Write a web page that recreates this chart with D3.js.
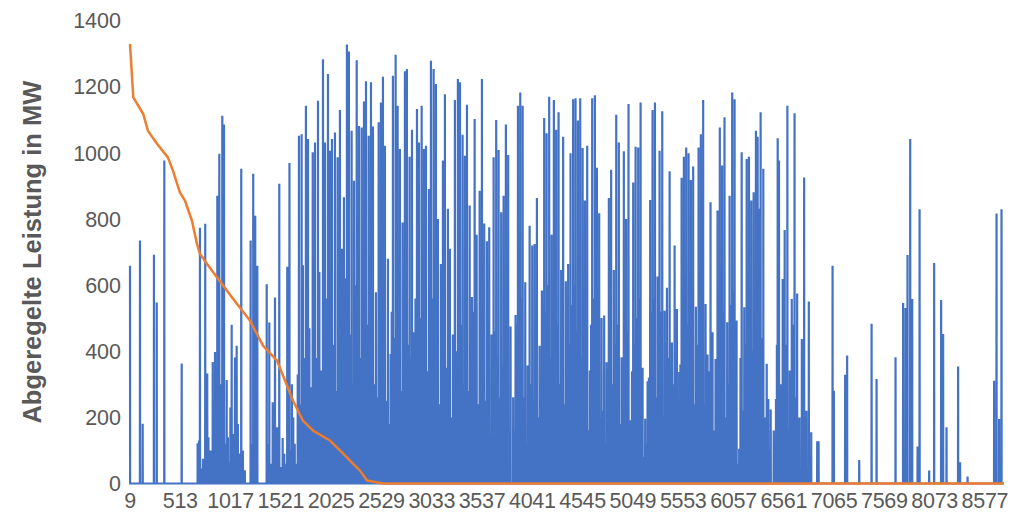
<!DOCTYPE html>
<html>
<head>
<meta charset="utf-8">
<script src="https://cdn.jsdelivr.net/npm/d3@7"></script>
<style>
  body { margin: 0; background: #fff; }
  svg { display: block; font-family: "Liberation Sans", Arial, sans-serif; }
</style>
</head>
<body>
<svg id="chart" width="1022" height="513"></svg>
<script>
// category axis: hours of the year, labelled every 504 h
const xTickLabels = [9, 513, 1017, 1521, 2025, 2529, 3033, 3537, 4041, 4545,
  5049, 5553, 6057, 6561, 7065, 7569, 8073, 8577];
const yTicks = [0, 200, 400, 600, 800, 1000, 1200, 1400];
const firstHour = 9, lastHour = 8768;

// curtailed power per hour (MW): [hour, MW]; all other hours are 0
const curtailed = [
  [9,659],[109,735],[136,181],[249,692],[277,548],[353,977],[527,363],[687,122],
  [710,774],[727,45],[740,75],[763,786],[783,333],[804,100],[821,100],[838,368],
  [861,398],[884,871],[904,998],[934,1113],[951,1086],[978,313],[1004,64],[1028,480],
  [1061,381],[1078,417],[1104,91],[1124,952],[1218,735],[1244,937],[1264,810],[1285,659],
  [1379,603],[1405,487],[1439,246],[1462,563],[1485,170],[1505,907],[1539,138],[1585,656],
  [1607,970],[1645,200],[1702,1052],
  [1729,1057],[1742,660],[1772,1143],[1793,1042],[1820,291],[1840,1002],[1863,1032],[1893,1158],
  [1920,342],[1943,1284],[1963,1032],[1993,1239],[2013,1007],[2033,1042],[2063,1062],[2090,987],
  [2113,1130],[2133,710],[2153,866],[2183,1328],[2203,1307],[2230,1067],[2254,916],[2281,1281],
  [2304,1082],[2331,1077],[2354,1156],[2374,1217],[2401,1052],[2424,1214],[2444,1080],
  [2474,579],[2501,1093],[2524,1153],[2544,1231],[2564,1022],[2594,680],[2621,392],[2644,1234],
  [2671,1297],[2691,1143],[2714,1012],[2741,790],[2764,1247],[2784,1254],[2811,989],[2835,1070],
  [2855,458],[2885,1133],[2905,1032],[2932,1143],[2955,1012],[2975,1022],[3005,891],[3025,1279],
  [3052,1254],[3075,1209],[3095,800],[3125,664],[3145,977],[3165,1178],[3195,831],[3215,710],
  [3245,451],[3265,1160],
  [3295,1224],[3316,1214],[3342,1055],[3366,992],[3386,1146],[3413,841],[3436,564],[3463,1103],
  [3483,753],[3513,886],[3536,1224],[3559,787],[3586,733],[3609,775],[3633,451],[3653,987],
  [3679,1100],[3703,1009],[3729,821],[3753,871],[3776,1086],[3799,994],[3823,475],[3849,261],
  [3873,510],[3897,1143],[3920,1183],[3944,1143],[3970,609],[3994,357],[4014,780],[4040,720],
  [4064,725],
  [4087,864],[4114,417],[4137,584],[4160,1106],[4184,1060],[4210,1170],[4234,753],[4257,1160],
  [4280,1070],[4304,1123],[4330,646],[4350,1049],[4377,612],[4400,664],[4424,999],[4450,1163],
  [4474,1166],[4498,1098],[4521,1166],[4545,1015],[4568,856],[4591,1022],[4618,342],[4641,1166],
  [4668,1175],[4688,955],[4711,818],[4735,501],[4761,508],[4785,367],[4808,864],[4831,949],
  [4858,646],
  [4882,1116],[4908,1032],[4935,382],[4958,1005],[4981,800],[5005,1148],[5028,191],[5052,911],
  [5076,1019],[5102,1017],[5126,1153],[5146,350],[5172,196],[5196,309],[5222,858],[5246,1130],
  [5270,1153],[5296,626],[5316,1007],[5343,1126],[5367,523],[5390,592],[5417,945],[5440,427],
  [5467,720],[5490,528],[5513,337],[5537,925],[5560,989],[5583,1017],[5607,999],[5630,918],
  [5653,959],
  [5680,535],[5707,1017],[5730,1057],[5753,1160],[5777,543],[5797,390],[5827,851],[5847,458],
  [5877,377],[5897,826],[5920,1077],[5943,962],[5967,1108],[5994,488],[6018,871],[6044,1183],
  [6068,1163],[6088,493],[6114,105],[6139,1002],[6165,533],[6189,982],[6212,989],[6235,856],
  [6259,881],[6282,1067],[6299,1049],[6312,831],[6329,1123],[6356,952],[6390,362],[6406,256],
  [6430,224],[6483,256],[6500,1045],[6513,977],[6550,619],[6570,767],[6597,1143],[6621,342],
  [6641,558],[6669,1120],[6695,575],[6742,437],[6765,926],[6812,551],[6836,155],[6896,128],
  [6910,128],[7050,659],[7063,281],[7176,329],[7196,387],[7317,71],[7441,483],[7491,316],
  [7681,382],[7757,546],[7781,531],[7801,691],[7828,1042],[7848,558],[7902,112],[7922,830],
  [8018,39],[8068,667],[8138,555],[8158,452],[8192,170],[8308,354],[8328,64],[8403,21],
  [8669,311],[8693,817],[8719,195],[8743,830]
];

// smaller curtailment hours visible as low blue fill between the peaks: [hour, MW]
const curtailedLow = [
  [700,130],[750,60],[795,140],[812,90],[850,120],[872,200],[895,150],[915,300],
  [925,60],[943,250],[965,120],[990,140],[1015,230],[1040,60],[1050,150],[1090,180],
  [1115,60],[1140,100],[1160,40],[1232,120],[1255,60],[1275,90],[1395,120],[1420,60],
  [1450,90],[1475,40],[1495,120],[1520,50],[1555,90],[1572,60],[1595,150],[1620,100],
  [1632,300],[1660,120],[1680,60],[1690,330],[1712,240],[1755,380],[1807,470],[1830,180],
  [1852,520],[1878,380],[1907,640],[1932,250],[1976,560],[2003,300],[2048,420],[2076,280],
  [2100,520],[2123,300],[2143,340],[2168,620],[2218,450],[2242,300],[2268,600],[2318,380],
  [2342,560],[2388,480],[2413,340],[2458,300],[2488,260],[2512,450],[2554,330],[2580,250],
  [2608,180],[2632,520],[2658,440],[2702,350],[2728,280],[2752,600],[2797,420],[2823,380],
  [2845,220],[2870,560],[2895,300],[2918,500],[2943,260],[2965,380],[2990,340],[3015,450],
  [3040,560],[3064,380],[3085,300],[3110,240],[3135,260],[3155,500],[3180,350],[3205,300],
  [3230,200],[3255,340],[3280,400],[3305,520],[3330,480],[3354,300],[3376,460],[3400,280],
  [3425,240],[3450,520],[3473,300],[3498,240],[3524,420],[3548,300],[3572,250],[3598,200],
  [3621,150],[3643,330],[3666,460],[3691,380],[3716,260],[3741,360],[3765,500],[3788,300],
  [3811,160],[3861,160],[3885,480],[3908,620],[3932,560],[3957,260],[3982,120],[4004,230],
  [4027,300],[4052,250],[4075,330],[4100,200],[4125,260],[4148,540],[4172,520],[4197,600],
  [4222,380],[4246,400],[4268,520],[4292,480],[4318,300],[4340,380],[4364,240],[4388,300],
  [4412,420],[4437,540],[4462,600],[4486,460],[4510,520],[4533,380],[4556,340],[4580,420],
  [4604,160],[4630,480],[4655,560],[4677,400],[4700,300],[4723,200],[4748,220],[4773,120],
  [4796,260],[4820,400],[4845,300],[4870,420],[4895,480],[4921,180],[4946,360],[4970,300],
  [4993,460],[5016,120],[5040,340],[5064,420],[5089,500],[5114,560],[5136,140],[5159,80],
  [5184,120],[5209,320],[5234,520],[5258,560],[5283,260],[5306,400],[5330,520],[5355,200],
  [5378,240],[5404,380],[5428,160],[5453,300],[5478,200],[5502,120],[5525,360],[5548,420],
  [5572,460],[5595,480],[5618,400],[5641,420],[5666,240],[5693,420],[5718,520],[5741,560],
  [5765,240],[5787,160],[5812,340],[5837,200],[5862,160],[5887,300],[5908,460],[5931,440],
  [5955,520],[5980,200],[6006,300],[6031,540],[6056,580],[6078,200],[6101,60],[6127,380],
  [6152,220],[6177,420],[6200,460],[6223,380],[6247,400],[6270,480],[6320,420],[6342,440],
  [6370,200],[6398,120],[6418,100],[6460,160],[6492,420],[6530,300],[6560,260],[6583,420],
  [6609,160],[6630,260],[6655,480],[6682,260],[6718,200],[6754,300],[6788,220],[6824,80]
];

// same values sorted descending (duration curve): [hour rank, MW]
const durationCurve = [
  [9,1330],[42,1168],[142,1118],[189,1067],[280,1028],[390,986],[440,946],[510,880],
  [560,856],[630,795],[680,725],[710,695],[780,665],[880,624],[980,584],[1080,544],
  [1211,493],[1342,417],[1482,372],[1542,327],[1642,251],[1742,190],[1843,160],[2013,130],
  [2143,91],[2243,60],[2314,39],[2384,9],[2544,0],[8768,0]
];

const svg = d3.select('#chart');
const x = d3.scaleLinear().domain([firstHour, lastHour]).range([130, 1004]);
const y = d3.scaleLinear().domain([0, 1400]).range([483.5, 20.8]);

// hourly series
const hourly = d3.range(firstHour, lastHour + 1).map(h => [h, 0]);
curtailedLow.forEach(([h, v]) => { hourly[h - firstHour][1] = v; });
curtailed.forEach(([h, v]) => { hourly[h - firstHour][1] = v; });

// axis line
svg.append('line')
  .attr('x1', x(firstHour)).attr('x2', x(lastHour))
  .attr('y1', y(0)).attr('y2', y(0))
  .attr('stroke', '#d9d9d9').attr('stroke-width', 1);

const line = d3.line().x(d => x(d[0])).y(d => y(d[1]));

svg.append('path')
  .datum(hourly)
  .attr('fill', 'none')
  .attr('stroke', '#4472c4')
  .attr('stroke-width', 2.2)
  .attr('d', line);

svg.append('path')
  .datum(durationCurve)
  .attr('fill', 'none')
  .attr('stroke', '#ed7d31')
  .attr('stroke-width', 2.5)
  .attr('stroke-linejoin', 'round')
  .attr('d', line);

// y tick labels
svg.append('g').selectAll('text')
  .data(yTicks)
  .join('text')
  .attr('x', 121)
  .attr('y', d => y(d))
  .attr('dy', '0.35em')
  .attr('text-anchor', 'end')
  .attr('font-size', 21.5)
  .attr('fill', '#595959')
  .text(d => d);

// x tick labels
svg.append('g').selectAll('text')
  .data(xTickLabels)
  .join('text')
  .attr('x', d => x(d))
  .attr('y', 508)
  .attr('text-anchor', 'middle')
  .attr('font-size', 21.5)
  .attr('letter-spacing', -0.3)
  .attr('fill', '#595959')
  .text(d => d);

// y title
svg.append('text')
  .attr('transform', `translate(41,${(y(0) + y(1400)) / 2}) rotate(-90)`)
  .attr('text-anchor', 'middle')
  .attr('font-size', 25.5)
  .attr('font-weight', 'bold')
  .attr('fill', '#595959')
  .text('Abgeregelte Leistung in MW');
</script>
</body>
</html>
